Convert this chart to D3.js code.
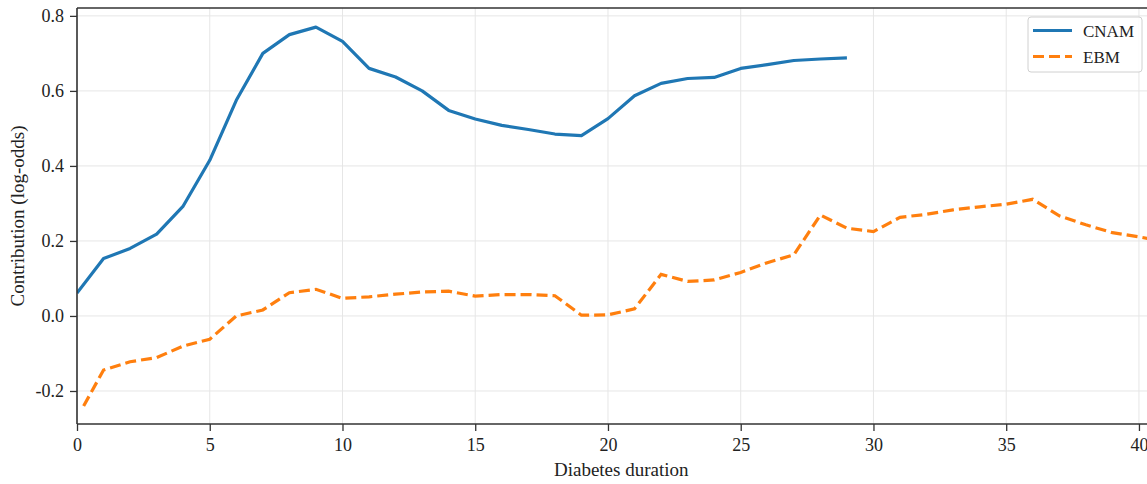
<!DOCTYPE html>
<html>
<head>
<meta charset="utf-8">
<script src="https://cdn.jsdelivr.net/npm/d3@7"></script>
<style>
  body { margin: 0; background: #fff; }
  svg { display: block; font-family: "Liberation Serif", "DejaVu Serif", serif; }
</style>
</head>
<body>
<div id="chart"></div>
<script>
// data
const cnamX = [0, 1, 2, 3, 4, 5, 6, 7, 8, 9, 10, 11, 12, 13, 14, 15, 16, 17, 18, 19, 20, 21, 22, 23, 24, 25, 26, 27, 28, 29];
const cnamY = [0.061, 0.153, 0.18, 0.218, 0.293, 0.415, 0.575, 0.70, 0.75, 0.77, 0.732, 0.66, 0.637, 0.60, 0.548, 0.525, 0.508, 0.497, 0.485, 0.481, 0.526, 0.587, 0.62, 0.633, 0.636, 0.66, 0.67, 0.681, 0.685, 0.688];

const ebmX = [0.25, 1, 2, 3, 4, 5, 6, 7, 8, 9, 10, 11, 12, 13, 14, 15, 16, 17, 18, 19, 20, 21, 22, 23, 24, 25, 26, 27, 28, 29, 30, 31, 32, 33, 34, 35, 36, 37, 38, 39, 40, 41];
const ebmY = [-0.24, -0.144, -0.122, -0.111, -0.080, -0.062, 0.0, 0.016, 0.062, 0.071, 0.047, 0.051, 0.058, 0.064, 0.066, 0.053, 0.057, 0.057, 0.054, 0.002, 0.003, 0.019, 0.111, 0.092, 0.096, 0.116, 0.142, 0.163, 0.269, 0.234, 0.225, 0.263, 0.271, 0.283, 0.291, 0.298, 0.311, 0.267, 0.243, 0.222, 0.211, 0.198];

const xTicks = [0, 5, 10, 15, 20, 25, 30, 35, 40];
const yTicks = [-0.2, 0.0, 0.2, 0.4, 0.6, 0.8];
const seriesNames = ['CNAM', 'EBM'];

const width = 1147, height = 484;
const mLeft = 77, mTop = 8, mBottom = 424, mRight = 1165.5;

const svg = d3.select('#chart').append('svg')
  .attr('width', width)
  .attr('height', height);

const x = d3.scaleLinear().domain([0, 41]).range([mLeft, mRight]);
const y = d3.scaleLinear().domain([-0.288, 0.821]).range([mBottom, mTop]);

svg.append('defs').append('clipPath').attr('id', 'clip')
  .append('rect')
  .attr('x', mLeft).attr('y', mTop)
  .attr('width', mRight - mLeft).attr('height', mBottom - mTop);

// grid
svg.append('g')
  .selectAll('line')
  .data(xTicks)
  .enter()
  .append('line')
  .attr('x1', d => x(d)).attr('x2', d => x(d))
  .attr('y1', mTop).attr('y2', mBottom)
  .attr('stroke', '#e6e6e6').attr('stroke-width', 1);
svg.append('g')
  .selectAll('line')
  .data(yTicks)
  .enter()
  .append('line')
  .attr('x1', mLeft).attr('x2', mRight)
  .attr('y1', d => y(d)).attr('y2', d => y(d))
  .attr('stroke', '#e6e6e6').attr('stroke-width', 1);

// lines
const lineGen = d3.line().x(d => x(d[0])).y(d => y(d[1]));
const plot = svg.append('g').attr('clip-path', 'url(#clip)');

plot.append('path')
  .datum(ebmX.map((v, i) => [v, ebmY[i]]))
  .attr('d', lineGen)
  .attr('fill', 'none')
  .attr('stroke', '#ff7f0e')
  .attr('stroke-width', 3.2)
  .attr('stroke-dasharray', '11,5');

plot.append('path')
  .datum(cnamX.map((v, i) => [v, cnamY[i]]))
  .attr('d', lineGen)
  .attr('fill', 'none')
  .attr('stroke', '#1f77b4')
  .attr('stroke-width', 3.2)
  .attr('stroke-linejoin', 'round');

// axes
const xAxis = svg.append('g')
  .attr('transform', 'translate(0,' + mBottom + ')')
  .call(d3.axisBottom(x).tickValues(xTicks).tickFormat(d3.format('d')).tickSizeOuter(0).tickSize(7).tickPadding(7));
const yAxis = svg.append('g')
  .attr('transform', 'translate(' + mLeft + ',0)')
  .call(d3.axisLeft(y).tickValues(yTicks).tickFormat(d => d.toFixed(1)).tickSizeOuter(0).tickSize(7).tickPadding(6));

[xAxis, yAxis].forEach(a => {
  a.select('.domain').remove();
  a.selectAll('line').attr('stroke', '#333').attr('stroke-width', 1.3);
  a.selectAll('text').attr('fill', '#222').style('font-size', '18px').style('font-family', '"Liberation Serif", serif');
});

// spines
svg.append('line').attr('x1', mLeft).attr('x2', mRight).attr('y1', mBottom).attr('y2', mBottom)
  .attr('stroke', '#333').attr('stroke-width', 1.6);
svg.append('line').attr('x1', mLeft).attr('x2', mRight).attr('y1', mTop).attr('y2', mTop)
  .attr('stroke', '#333').attr('stroke-width', 1.6);
svg.append('line').attr('x1', mLeft).attr('x2', mLeft).attr('y1', mTop).attr('y2', mBottom)
  .attr('stroke', '#333').attr('stroke-width', 1.6);

// axis labels
svg.append('text')
  .attr('x', x(20.5)).attr('y', 476)
  .attr('text-anchor', 'middle')
  .style('font-size', '19px').attr('fill', '#222')
  .text('Diabetes duration');
svg.append('text')
  .attr('transform', 'translate(24,' + ((mTop + mBottom) / 2) + ') rotate(-90)')
  .attr('text-anchor', 'middle')
  .style('font-size', '19px').attr('fill', '#222')
  .text('Contribution (log-odds)');

// legend
const lg = svg.append('g').attr('transform', 'translate(1028,17)');
lg.append('rect')
  .attr('width', 114).attr('height', 55)
  .attr('rx', 3)
  .attr('fill', 'white').attr('fill-opacity', 0.85)
  .attr('stroke', '#d0d0d0').attr('stroke-width', 1);
const colors = ['#1f77b4', '#ff7f0e'];
const dashes = [null, '11,5'];
seriesNames.forEach((name, i) => {
  const yy = 13.5 + i * 26;
  lg.append('line')
    .attr('x1', 5).attr('x2', 44)
    .attr('y1', yy).attr('y2', yy)
    .attr('stroke', colors[i]).attr('stroke-width', 3.2)
    .attr('stroke-dasharray', dashes[i]);
  lg.append('text')
    .attr('x', 55).attr('y', yy + 6)
    .style('font-size', '17px').attr('fill', '#222')
    .text(name);
});
</script>
</body>
</html>
